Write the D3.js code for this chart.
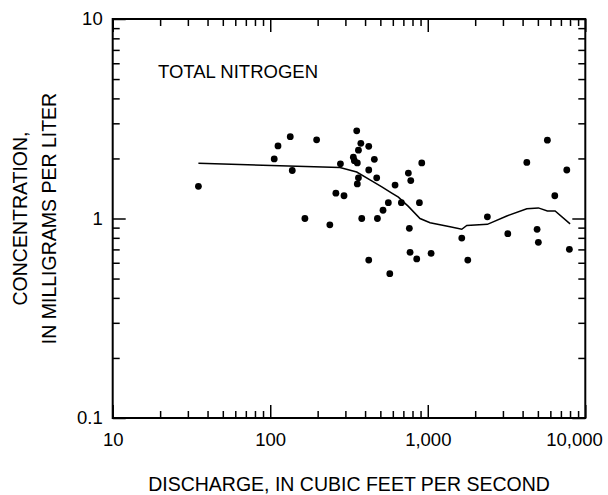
<!DOCTYPE html>
<html>
<head>
<meta charset="utf-8">
<script src="https://cdn.jsdelivr.net/npm/d3@7"></script>
<style>
  html, body { margin: 0; padding: 0; background: #fff; }
  svg { display: block; }
  text { font-family: "Liberation Sans", Arial, Helvetica, sans-serif; fill: #000; }
</style>
</head>
<body>
<svg id="chart" width="608" height="495"></svg>
<script>
// ---- Data ----
const discharge = [35, 106, 112, 134, 197, 138, 166, 239, 261, 279,
  354, 376, 363, 422, 337, 342, 357, 458, 422, 363,
  474, 357, 620, 753, 780, 916, 294, 562, 680, 885,
  520, 381, 479, 764, 1644, 772, 1050, 851, 422, 1795,
  574, 5745, 4253, 7630, 6402, 2390, 3221, 4943, 5035, 7925];
const concentration = [1.45, 1.99, 2.31, 2.57, 2.48, 1.74, 1.0, 0.93, 1.34, 1.88,
  2.75, 2.38, 2.20, 2.30, 2.03, 1.95, 1.90, 1.98, 1.75, 1.60,
  1.60, 1.49, 1.47, 1.69, 1.55, 1.90, 1.30, 1.20, 1.20, 1.20,
  1.10, 1.0, 1.0, 0.893, 0.798, 0.677, 0.669, 0.627, 0.619, 0.619,
  0.529, 2.47, 1.91, 1.75, 1.30, 1.02, 0.839, 0.883, 0.760, 0.701];

const curveDischarge = [35, 277, 354, 430, 511, 591, 651, 753, 893, 1034,
  1385, 1644, 1769, 2390, 3175, 4253, 5035, 5745, 6432, 8008];
const curveConcentration = [1.89, 1.80, 1.71, 1.56, 1.44, 1.34, 1.28, 1.15, 1.0, 0.953,
  0.91, 0.883, 0.923, 0.935, 1.03, 1.12, 1.13, 1.09, 1.09, 0.94];

const xMajorTicks = [10, 100, 1000, 10000];
const yMajorTicks = [0.1, 1, 10];
const xTickLabels = ["10", "100", "1,000", "10,000"];
const yTickLabels = ["0.1", "1", "10"];

const titleText = "TOTAL NITROGEN";
const xTitle = "DISCHARGE, IN CUBIC FEET PER SECOND";
const yTitle = ["CONCENTRATION,", "IN MILLIGRAMS PER LITER"];

// ---- Layout ----
const svg = d3.select("#chart");
const L = 112.7, R = 585.3, T = 19, B = 418;

const x = d3.scaleLog().domain([10, 10000]).range([L, R]);
const y = d3.scaleLog().domain([0.1, 10]).range([B, T]);

function minors(lo, hi) {
  const out = [];
  for (let d = lo; d < hi; d *= 10)
    for (let k = 2; k <= 9; k++) out.push(d * k);
  return out;
}
const xMinor = minors(10, 10000);
const yMinor = minors(0.1, 10);

const tickFont = "18.5px";

function styleAxis(g, sw) {
  g.select(".domain").remove();
  g.selectAll(".tick line").attr("stroke", "#000").attr("stroke-width", sw);
  g.selectAll(".tick text").style("font-size", tickFont).attr("fill", "#000");
}

// bottom
svg.append("g").attr("transform", `translate(0,${B})`)
  .call(d3.axisBottom(x).tickValues(xMajorTicks).tickSize(-13).tickPadding(15)
    .tickFormat((d, i) => xTickLabels[i]))
  .call(g => styleAxis(g, 1.5))
  .call(g => g.selectAll(".tick text").filter(d => d === 10000)
    .attr("text-anchor", "end").attr("x", 17));
svg.append("g").attr("transform", `translate(0,${B})`)
  .call(d3.axisBottom(x).tickValues(xMinor).tickSize(-7).tickFormat(""))
  .call(g => styleAxis(g, 1.5));
// top
svg.append("g").attr("transform", `translate(0,${T})`)
  .call(d3.axisTop(x).tickValues(xMajorTicks).tickSize(-13).tickFormat(""))
  .call(g => styleAxis(g, 1.5));
svg.append("g").attr("transform", `translate(0,${T})`)
  .call(d3.axisTop(x).tickValues(xMinor).tickSize(-7).tickFormat(""))
  .call(g => styleAxis(g, 1.5));
// left
svg.append("g").attr("transform", `translate(${L},0)`)
  .call(d3.axisLeft(y).tickValues(yMajorTicks).tickSize(-13).tickPadding(10)
    .tickFormat((d, i) => yTickLabels[i]))
  .call(g => styleAxis(g, 1.5));
svg.append("g").attr("transform", `translate(${L},0)`)
  .call(d3.axisLeft(y).tickValues(yMinor).tickSize(-7).tickFormat(""))
  .call(g => styleAxis(g, 1.5));
// right
svg.append("g").attr("transform", `translate(${R},0)`)
  .call(d3.axisRight(y).tickValues(yMajorTicks).tickSize(-13).tickFormat(""))
  .call(g => styleAxis(g, 1.5));
svg.append("g").attr("transform", `translate(${R},0)`)
  .call(d3.axisRight(y).tickValues(yMinor).tickSize(-7).tickFormat(""))
  .call(g => styleAxis(g, 1.5));

// frame
svg.append("rect").attr("x", L).attr("y", T).attr("width", R - L).attr("height", B - T)
  .attr("fill", "none").attr("stroke", "#000").attr("stroke-width", 2);

// curve
const curveData = curveDischarge.map((d, i) => [d, curveConcentration[i]]);
svg.append("path").datum(curveData)
  .attr("fill", "none").attr("stroke", "#000").attr("stroke-width", 1.5)
  .attr("d", d3.line().x(d => x(d[0])).y(d => y(d[1])));

// points
const pts = discharge.map((d, i) => [d, concentration[i]]);
svg.append("g").selectAll("circle").data(pts).join("circle")
  .attr("cx", d => x(d[0])).attr("cy", d => y(d[1])).attr("r", 3.4).attr("fill", "#000");

// texts
svg.append("text").attr("x", 158).attr("y", 77.5).style("font-size", "18.5px").text(titleText);

svg.append("text").attr("x", (L + R) / 2).attr("y", 491).attr("text-anchor", "middle")
  .style("font-size", "19.5px").text(xTitle);

const yc = (T + B) / 2;
svg.append("text").attr("transform", `translate(27,${yc}) rotate(-90)`).attr("text-anchor", "middle")
  .style("font-size", "19.5px").text(yTitle[0]);
svg.append("text").attr("transform", `translate(55.5,${yc}) rotate(-90)`).attr("text-anchor", "middle")
  .style("font-size", "19.5px").text(yTitle[1]);
</script>
</body>
</html>
